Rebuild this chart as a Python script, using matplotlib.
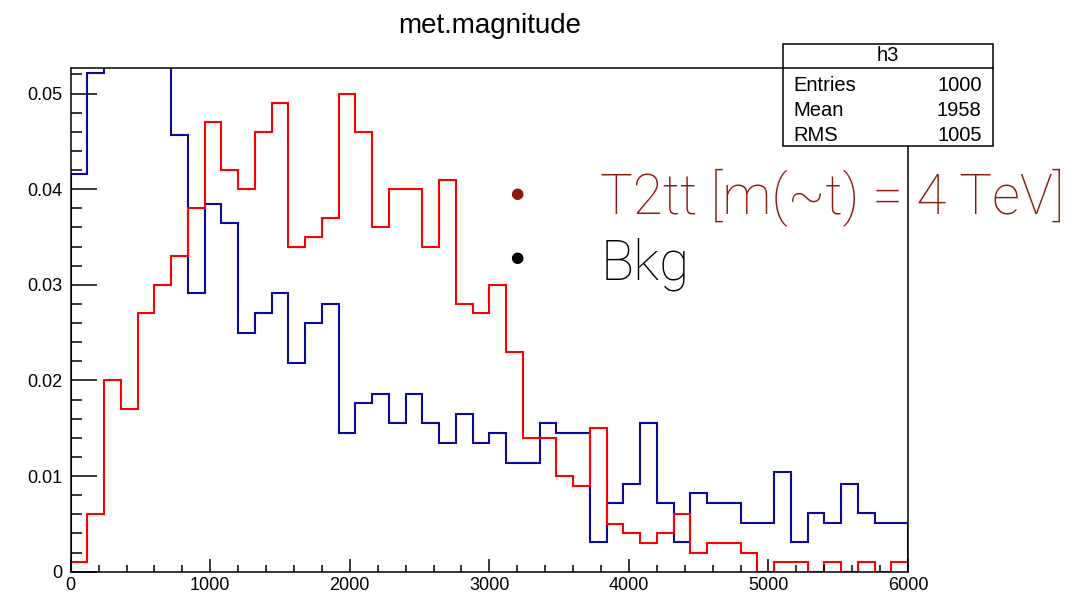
import numpy as np
import matplotlib
matplotlib.use("Agg")
import matplotlib.pyplot as plt
from matplotlib.patches import Rectangle
from matplotlib.lines import Line2D
from matplotlib.ticker import MultipleLocator

# --- data: met.magnitude, 50 bins from 0 to 6000 ---
n_bins = 50
x_min, x_max = 0, 6000

signal = [0.001, 0.006, 0.020, 0.017, 0.027, 0.030, 0.033, 0.038, 0.047, 0.042,
          0.040, 0.046, 0.049, 0.034, 0.035, 0.037, 0.050, 0.046, 0.036, 0.040,
          0.040, 0.034, 0.041, 0.028, 0.027, 0.030, 0.023, 0.014, 0.014, 0.010,
          0.009, 0.015, 0.005, 0.004, 0.003, 0.004, 0.006, 0.002, 0.003, 0.003,
          0.002, 0.000, 0.001, 0.001, 0.000, 0.001, 0.000, 0.001, 0.000, 0.001]

background = [0.0416, 0.0521, 0.056, 0.064, 0.066, 0.060, 0.0457, 0.0291, 0.0385, 0.0365,
              0.0250, 0.0270, 0.0291, 0.0218, 0.0260, 0.0280, 0.0145, 0.0176, 0.0186, 0.0155,
              0.0186, 0.0155, 0.0135, 0.0165, 0.0135, 0.0145, 0.0114, 0.0114, 0.0155, 0.0145,
              0.0145, 0.0031, 0.0072, 0.0092, 0.0155, 0.0072, 0.0031, 0.0082, 0.0072, 0.0072,
              0.0051, 0.0051, 0.0104, 0.0031, 0.0061, 0.0051, 0.0092, 0.0061, 0.0051, 0.0051]

stats_name = "h3"
stats_rows = [("Entries", "1000"), ("Mean", "1958"), ("RMS", "1005")]

edges = np.linspace(x_min, x_max, n_bins + 1)

plt.rcParams['font.family'] = ['Liberation Sans', 'DejaVu Sans']

fig = plt.figure(figsize=(10.78, 5.95), dpi=100)
ax = fig.add_axes([0.0656, 0.0392, 0.7767, 0.847])

ax.stairs(background, edges, color='#0a0a9c', linewidth=1.5)
ax.stairs(signal, edges, color='#ff0000', linewidth=1.5)

ax.set_xlim(x_min, x_max)
ax.set_ylim(0, 0.0527)

ax.xaxis.set_major_locator(MultipleLocator(1000))
ax.xaxis.set_minor_locator(MultipleLocator(200))
ax.yaxis.set_major_locator(MultipleLocator(0.01))
ax.yaxis.set_minor_locator(MultipleLocator(0.002))
ax.yaxis.set_major_formatter(lambda v, p: "0" if v == 0 else f"{v:.2f}")

ax.tick_params(axis='x', which='major', direction='in', length=9.5, width=1.1,
               labelsize=13, pad=4)
ax.tick_params(axis='x', which='minor', direction='in', length=5, width=1.1)
ax.tick_params(axis='y', which='major', direction='in', length=18.7, width=1.1,
               labelsize=13, pad=6)
ax.tick_params(axis='y', which='minor', direction='in', length=8, width=1.1)

for s in ax.spines.values():
    s.set_linewidth(1.1)

ax.set_title("met.magnitude", fontsize=20, pad=25)

# --- stats box (ROOT style) ---
bx0, bx1 = 0.7261, 0.9214
by0, by1 = 0.7546, 0.9261
fig.patches.append(Rectangle((bx0, by0), bx1 - bx0, by1 - by0, transform=fig.transFigure,
                             facecolor='white', edgecolor='black', linewidth=1.1, zorder=5))
fig.lines.append(Line2D([bx0, bx1], [0.8852, 0.8852], transform=fig.transFigure,
                        color='black', linewidth=1.1, zorder=6))
fig.text((bx0 + bx1) / 2, 0.906, stats_name, ha='center', va='center', fontsize=14.5, zorder=7)
row_y = [0.857, 0.815, 0.773]
for (lab, val), yy in zip(stats_rows, row_y):
    fig.text(0.7356, yy, lab, ha='left', va='center', fontsize=14.5, zorder=7)
    fig.text(0.9107, yy, val, ha='right', va='center', fontsize=14.5, zorder=7)

# --- overlaid legend text ---
sig_color = '#8a1a0c'
light = dict(family=['Roboto', 'DejaVu Sans'], fontweight='light', fontsize=39.5)
fig.text(0.557, 0.641, "T2tt [m(~t) = 4 TeV]", color=sig_color, ha='left', va='baseline', **light)
fig.text(0.557, 0.531, "Bkg", color='black', ha='left', va='baseline', **light)
fig.text(0.479, 0.675, "\u25CF", color=sig_color, ha='center', va='center', fontsize=11,
         family=['DejaVu Sans'])
fig.text(0.479, 0.568, "\u25CF", color='black', ha='center', va='center', fontsize=11,
         family=['DejaVu Sans'])

fig.savefig("out.png", dpi=100)
